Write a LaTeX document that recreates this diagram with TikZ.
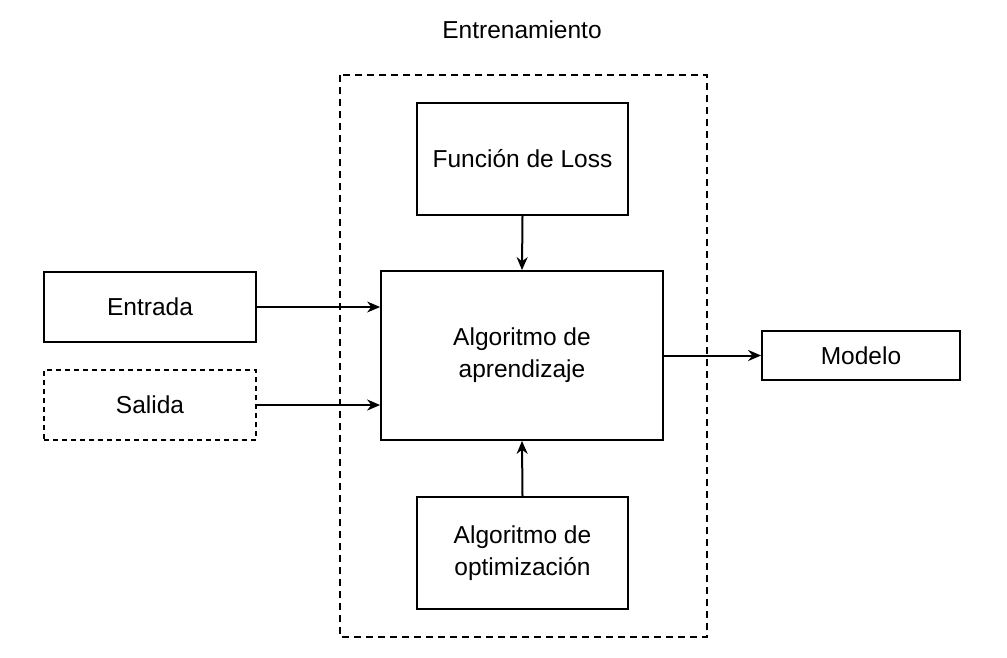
\documentclass[tikz,border=0pt]{standalone}
\usepackage{fontspec}
\setmainfont{Liberation Sans}
\usetikzlibrary{arrows.meta}
\begin{document}
\begin{tikzpicture}[x=1pt,y=-1pt,
  box/.style={draw, line width=1.8pt, inner sep=0pt, align=center, font=\fontsize{24.5}{32}\selectfont},
  dbox/.style={box, line width=1.6pt, dash pattern=on 5pt off 4pt},
  frame/.style={draw, line width=1.6pt, dash pattern=on 7pt off 5pt},
  conn/.style={line width=2pt, -{Stealth[length=13pt,width=11pt]}},
  thin conn/.style={line width=1.2pt, -{Stealth[length=13pt,width=11pt]}}]
\useasboundingbox (0,0) rectangle (1007,657);
\draw[frame] (340,75) rectangle (707,637);
\node[font=\fontsize{24.5}{30}\selectfont] (title) at (522,30) {Entrenamiento};
\node[box, minimum width=211pt, minimum height=112pt] (loss) at (522.5,159) {Función de Loss};
\node[box, minimum width=282pt, minimum height=169pt] (alg) at (522,355.5) {Algoritmo de\\aprendizaje};
\node[box, minimum width=211pt, minimum height=112pt] (opt) at (522.5,553) {Algoritmo de\\optimización};
\node[box, minimum width=212pt, minimum height=70pt] (in) at (150,307) {Entrada};
\node[dbox, minimum width=212pt, minimum height=70pt] (out) at (150,405) {Salida};
\node[box, minimum width=198pt, minimum height=49pt] (mod) at (861,355.5) {Modelo};
\draw[conn] (loss.south) -- (alg.north);
\draw[conn] (opt.north) -- (alg.south);
\draw[thin conn] (in.east) -- (in.east -| alg.west);
\draw[conn] (out.east) -- (out.east -| alg.west);
\draw[conn] (alg.east) -- (mod.west);
\end{tikzpicture}
\end{document}
